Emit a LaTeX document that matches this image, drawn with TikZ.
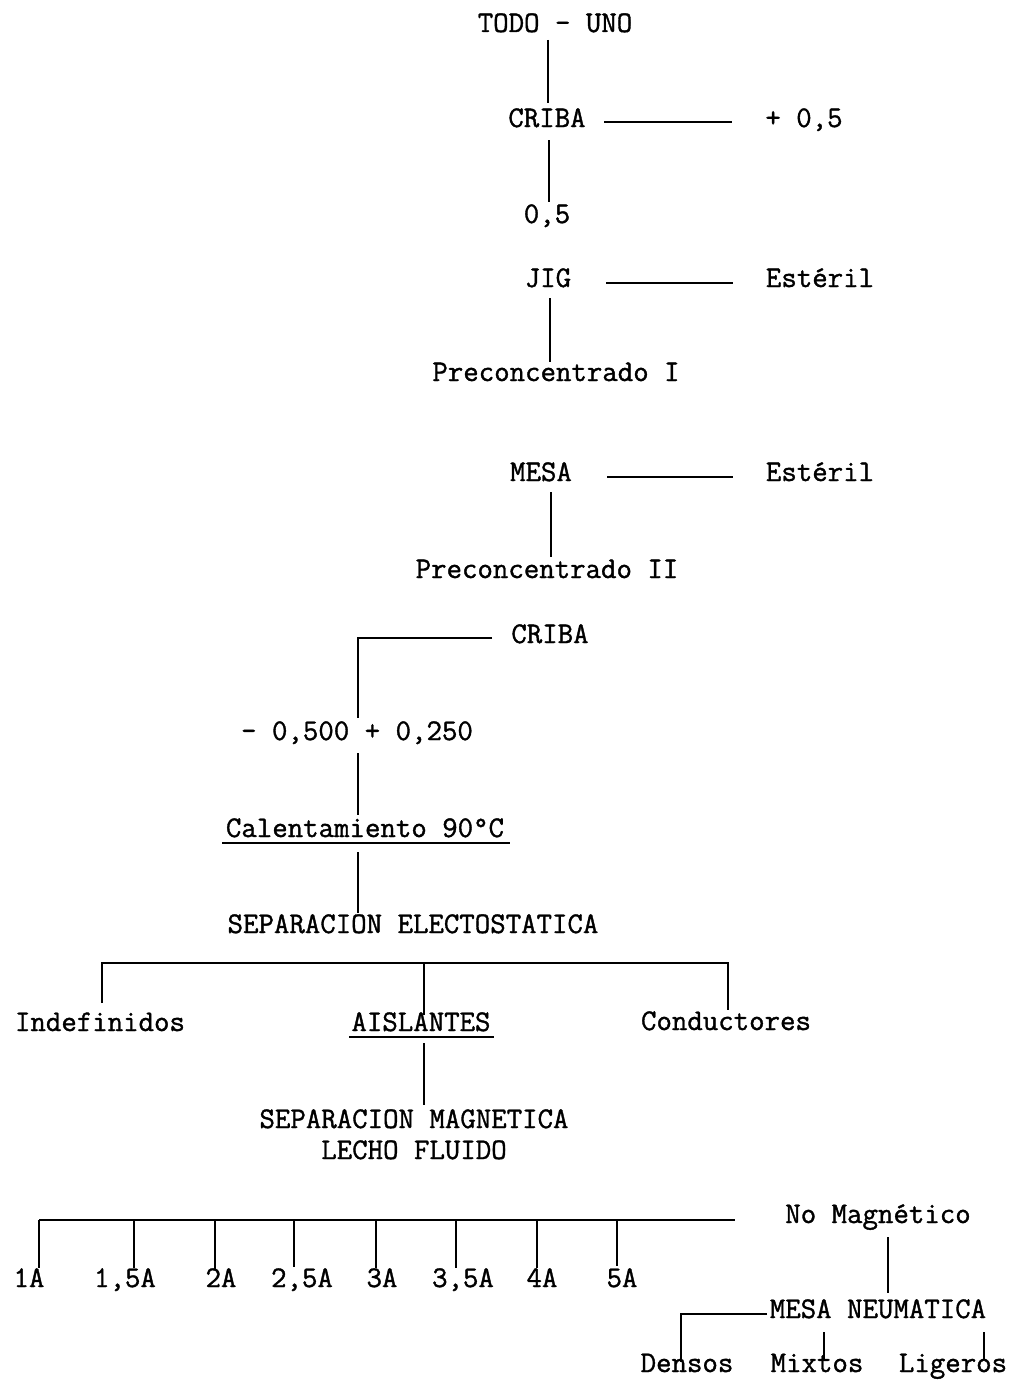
\documentclass[tikz,border=0pt]{standalone}
\usepackage{fontspec}
\newfontfamily\twfont[FakeBold=1.2]{Latin Modern Mono}
\begin{document}
\begin{tikzpicture}[x=1pt,y=-1pt,
  lbl/.style={inner sep=0pt,anchor=base,font=\twfont\fontsize{30}{36}\selectfont},
  ln/.style={line width=2.7pt,line cap=butt},
  ul/.style={line width=1.8pt}]
\useasboundingbox (0,0) rectangle (1019,1389);
\fill[white] (0,0) rectangle (1019,1389);
% nodes
\node[lbl] (todo) at (555,32) {TODO - UNO};
\node[lbl] (criba1) at (547,127) {CRIBA};
\node[lbl] (p05) at (804,127) {+ 0,5};
\node[lbl] (m05) at (547,223) {0,5};
\node[lbl] (jig) at (548,287) {JIG};
\node[lbl] (est1) at (820,287) {Estéril};
\node[lbl] (pre1) at (556,381) {Preconcentrado I};
\node[lbl] (mesa) at (541,481) {MESA};
\node[lbl] (est2) at (820,481) {Estéril};
\node[lbl] (pre2) at (547,578) {Preconcentrado II};
\node[lbl] (criba2) at (550,643) {CRIBA};
\node[lbl] (sizes) at (357,740) {- 0,500 + 0,250};
\node[lbl] (calent) at (365,837) {Calentamiento 90°C};
\node[lbl] (sepel) at (413,933) {SEPARACION ELECTOSTATICA};
\node[lbl] (indef) at (100,1031) {Indefinidos};
\node[lbl] (aisl) at (421,1031) {AISLANTES};
\node[lbl] (cond) at (726,1030) {Conductores};
\node[lbl] (sepmag) at (414,1128) {SEPARACION MAGNETICA};
\node[lbl] (lecho) at (414,1159) {LECHO FLUIDO};
\node[lbl] (nomag) at (878,1223) {No Magnético};
\node[lbl] (a1) at (29,1287) {1A};
\node[lbl] (a15) at (125,1287) {1,5A};
\node[lbl] (a2) at (221,1287) {2A};
\node[lbl] (a25) at (302,1287) {2,5A};
\node[lbl] (a3) at (382,1287) {3A};
\node[lbl] (a35) at (463,1287) {3,5A};
\node[lbl] (a4) at (542,1287) {4A};
\node[lbl] (a5) at (622,1287) {5A};
\node[lbl] (mesan) at (878,1318) {MESA NEUMATICA};
\node[lbl] (densos) at (687,1372) {Densos};
\node[lbl] (mixtos) at (817,1372) {Mixtos};
\node[lbl] (ligeros) at (953,1372) {Ligeros};
% connector end points
\coordinate (t1) at (548,40);   \coordinate (t2) at (548,103);
\coordinate (c1) at (604,122);  \coordinate (c2) at (732,122);
\coordinate (c3) at (549,140);  \coordinate (c4) at (549,202);
\coordinate (j1) at (606,283);  \coordinate (j2) at (733,283);
\coordinate (j3) at (550,298);  \coordinate (j4) at (550,362);
\coordinate (m1) at (607,477);  \coordinate (m2) at (733,477);
\coordinate (m3) at (551,492);  \coordinate (m4) at (551,557);
\coordinate (k1) at (492,638);  \coordinate (k2) at (358,638);  \coordinate (k3) at (358,718);
\coordinate (s1) at (358,753);  \coordinate (s2) at (358,815);
\coordinate (h1) at (358,852);  \coordinate (h2) at (358,913);
\coordinate (b1) at (102,963);  \coordinate (b2) at (424,963);  \coordinate (b3) at (728,963);
\coordinate (b1d) at (102,1003); \coordinate (b2d) at (424,1015); \coordinate (b3d) at (728,1010);
\coordinate (i1) at (424,1043); \coordinate (i2) at (424,1105);
\coordinate (r0) at (39,1220);  \coordinate (r9) at (735,1220);
\coordinate (n1) at (888,1237); \coordinate (n2) at (888,1293);
\coordinate (q1) at (767,1314); \coordinate (q2) at (681,1314); \coordinate (q3) at (681,1362);
\coordinate (x1) at (824,1332); \coordinate (x2) at (824,1360);
\coordinate (y1) at (984,1332); \coordinate (y2) at (984,1360);
% connectors
\draw[ln] (t1) -- (t2);
\draw[ln] (c1) -- (c2);
\draw[ln] (c3) -- (c4);
\draw[ln] (j1) -- (j2);
\draw[ln] (j3) -- (j4);
\draw[ln] (m1) -- (m2);
\draw[ln] (m3) -- (m4);
\draw[ln] (k1) -- (k2) -- (k3);
\draw[ln] (s1) -- (s2);
\draw[ln] (h1) -- (h2);
\draw[ln] (b1d) -- (b1) -- (b3) -- (b3d);
\draw[ln] (b2) -- (b2d);
\draw[ln] (i1) -- (i2);
\draw[ln] (r0) -- (r9);
\foreach \xx/\yy in {39/1268,134/1268,215/1270,294/1267,376/1268,456/1268,537/1268,617/1266}
  \draw[ln] (\xx,1220) -- (\xx,\yy);
\draw[ln] (n1) -- (n2);
\draw[ln] (q1) -- (q2) -- (q3);
\draw[ln] (x1) -- (x2);
\draw[ln] (y1) -- (y2);
% underlines
\coordinate (u1) at (222,843); \coordinate (u2) at (510,843);
\coordinate (u3) at (349,1037); \coordinate (u4) at (494,1037);
\draw[ul] (u1) -- (u2);
\draw[ul] (u3) -- (u4);
\end{tikzpicture}
\end{document}
